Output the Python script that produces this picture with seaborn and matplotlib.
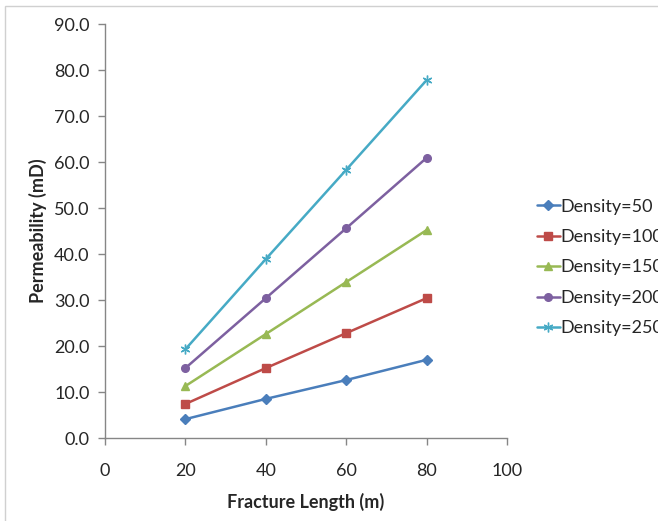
import numpy as np
import pandas as pd
import seaborn as sns
import matplotlib.pyplot as plt
from matplotlib.patches import Rectangle

# values
fracture_length = [20, 40, 60, 80]
density_labels = ["Density=50", "Density=100", "Density=150", "Density=200", "Density=250"]
perm_d50 = [4.1, 8.5, 12.6, 17.0]
perm_d100 = [7.4, 15.2, 22.8, 30.4]
perm_d150 = [11.3, 22.6, 33.9, 45.2]
perm_d200 = [15.2, 30.4, 45.6, 60.9]
perm_d250 = [19.3, 38.9, 58.3, 77.8]

series = [perm_d50, perm_d100, perm_d150, perm_d200, perm_d250]
df = pd.DataFrame({
    "length": fracture_length * len(series),
    "perm": [v for s in series for v in s],
    "density": [lab for lab in density_labels for _ in fracture_length],
})

colors = ["#4A7EBB", "#BE4B48", "#98B954", "#7D60A0", "#46AAC5"]
markers = ["D", "s", "^", "o", "p"]

sns.set_style("white")
plt.rcParams["font.family"] = ["Lato", "DejaVu Sans"]

fig = plt.figure(figsize=(6.58, 5.21), dpi=100)
ax = fig.add_axes([0.1596, 0.1593, 0.6109, 0.7946])

sns.lineplot(data=df, x="length", y="perm", hue="density", style="density",
             palette=colors, markers=markers, dashes=False, linewidth=1.8,
             markersize=5.5, markeredgewidth=1.0, ax=ax)
for ln, c in zip(ax.lines, colors):
    ln.set_markeredgecolor(c)
# Excel's asterisk marker for the last series
ax.lines[4].set_marker((6, 2, 0))
ax.lines[4].set_markersize(7)

ax.set_xlim(0, 100)
ax.set_ylim(0, 90)
ax.set_xticks(np.arange(0, 101, 20))
ax.set_yticks(np.arange(0, 91, 10))
ax.set_yticklabels([f"{t:.1f}" for t in np.arange(0, 91, 10)])
ax.tick_params(axis="both", direction="out", length=5, width=1, color="#868686",
               labelsize=13, bottom=True, left=True)
ax.tick_params(axis="x", pad=13)
ax.tick_params(axis="y", pad=6)
for side in ["top", "right"]:
    ax.spines[side].set_visible(False)
for side in ["left", "bottom"]:
    ax.spines[side].set_color("#868686")
    ax.spines[side].set_linewidth(1)

ax.set_xlabel("Fracture Length (m)", fontsize=13, fontweight="bold", va="center")
ax.set_ylabel("Permeability (mD)", fontsize=13, fontweight="bold", va="center")
ax.xaxis.set_label_coords(0.5, -64 / 414)
ax.yaxis.set_label_coords(-67 / 402, 0.5)

handles, labels = ax.get_legend_handles_labels()
leg = ax.legend(handles, labels, loc="center left", bbox_to_anchor=(1.075, 0.412),
                frameon=False, fontsize=13, handlelength=1.25, handletextpad=0.05,
                labelspacing=0.8, borderpad=0, borderaxespad=0)
for h, c in zip(leg.legend_handles, colors):
    h.set_markeredgecolor(c)
leg.legend_handles[4].set_marker((6, 2, 0))
leg.legend_handles[4].set_markersize(7)

# chart area border (partially cropped in the reference)
fig.patches.append(Rectangle((5 / 658, -0.1), 1.2, 1 - 6 / 521 + 0.1,
                             transform=fig.transFigure, fill=False,
                             edgecolor="#d0d0d0", linewidth=1))

fig.savefig("out.png", dpi=100)
